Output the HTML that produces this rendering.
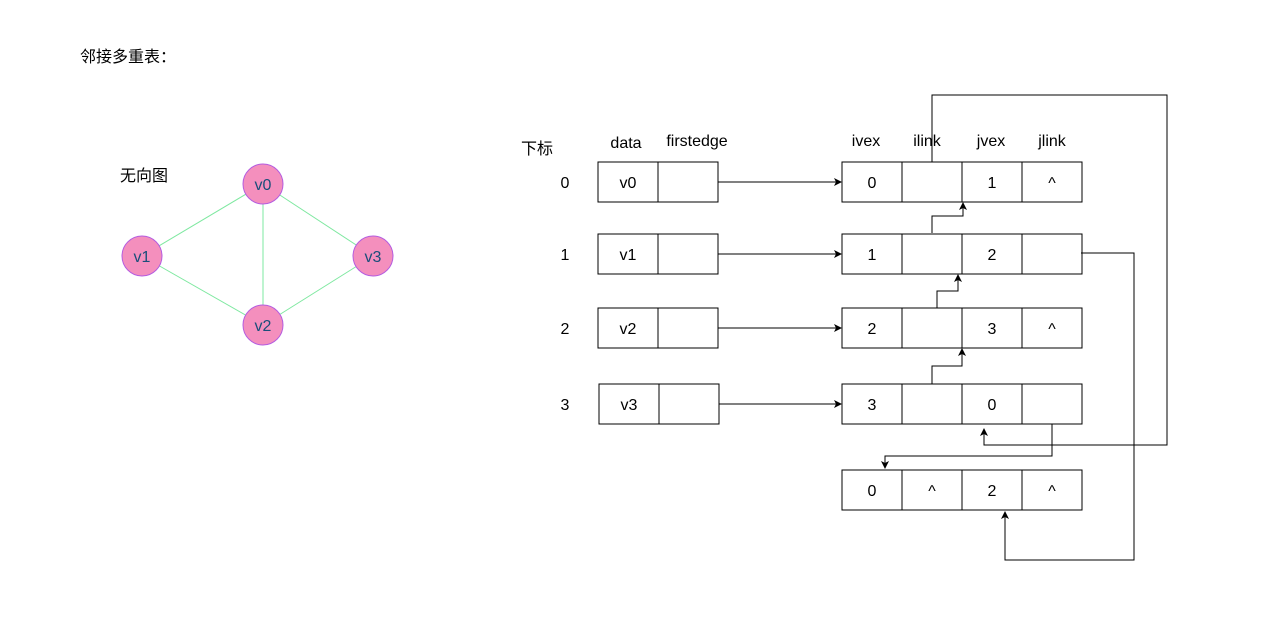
<!DOCTYPE html>
<html><head><meta charset="utf-8"><style>
body{margin:0;background:#fff}
svg{display:block;font-family:"Liberation Sans","Noto Sans CJK SC",sans-serif}
</style></head><body>
<svg width="1276" height="619" viewBox="0 0 1276 619" xmlns="http://www.w3.org/2000/svg">
<defs><marker id="ah" markerWidth="8" markerHeight="8" refX="7" refY="4" orient="auto" markerUnits="userSpaceOnUse"><path d="M0,0 L8,4 L0,8 L2,4 z" fill="#000"/></marker></defs>
<text x="80" y="62" font-size="16">邻接多重表：</text>
<text x="120" y="181" font-size="16">无向图</text>
<g stroke="#7ee8a0" stroke-width="1">
<line x1="263" y1="184" x2="142" y2="256"/><line x1="263" y1="184" x2="373" y2="256"/>
<line x1="263" y1="184" x2="263" y2="325"/><line x1="142" y1="256" x2="263" y2="325"/>
<line x1="373" y1="256" x2="263" y2="325"/></g>
<g fill="#f48fbd" stroke="#b45ce0" stroke-width="1" font-size="16">
<g><circle cx="263" cy="184" r="20"/><text x="263" y="190" text-anchor="middle" fill="#1a4e7a" stroke="none">v0</text></g>
<g><circle cx="142" cy="256" r="20"/><text x="142" y="262" text-anchor="middle" fill="#1a4e7a" stroke="none">v1</text></g>
<g><circle cx="263" cy="325" r="20"/><text x="263" y="331" text-anchor="middle" fill="#1a4e7a" stroke="none">v2</text></g>
<g><circle cx="373" cy="256" r="20"/><text x="373" y="262" text-anchor="middle" fill="#1a4e7a" stroke="none">v3</text></g>
</g>
<g font-size="16" text-anchor="middle">
<text x="537" y="154">下标</text><text x="626" y="148">data</text><text x="697" y="146">firstedge</text>
<text x="866" y="146">ivex</text><text x="927" y="146">ilink</text><text x="991" y="146">jvex</text><text x="1052" y="146">jlink</text>
</g>
<g id="tables" font-size="16" text-anchor="middle"></g>
<g fill="none" stroke="#000" stroke-width="1">
<polyline points="932,162 932,95 1167,95 1167,445 984,445 984,429" marker-end="url(#ah)"/>
<polyline points="932,233 932,216 963,216 963,203" marker-end="url(#ah)"/>
<polyline points="937,308 937,291 958,291 958,275" marker-end="url(#ah)"/>
<polyline points="932,384 932,366 962,366 962,349" marker-end="url(#ah)"/>
<polyline points="1052,424 1052,456 885,456 885,468" marker-end="url(#ah)"/>
<polyline points="1081,253 1134,253 1134,560 1005,560 1005,512" marker-end="url(#ah)"/>
</g>
</svg>
<script>
const vertexNames=["v0","v1","v2","v3"];
const edgeRows=[["0","","1","^"],["1","","2",""],["2","","3","^"],["3","","0",""],["0","^","2","^"]];
const rowY=[162,234,308,384,470];
const ns="http://www.w3.org/2000/svg",g=document.getElementById('tables');
function el(t,a,p){const e=document.createElementNS(ns,t);for(const k in a)e.setAttribute(k,a[k]);(p||g).appendChild(e);return e;}
function cell(x,y,w,txt,p){el('rect',{x:x,y:y,width:w,height:40,fill:'#fff',stroke:'#000'},p);const t=el('text',{x:x+w/2,y:y+26},p);t.textContent=txt;}
vertexNames.forEach((v,i)=>{const y=rowY[i],x=i==3?599:598;
const grp=el('g',{});


const idx=el('text',{x:565,y:y+26},grp);idx.textContent=String(i);
cell(x,y,60,v,grp);cell(x+60,y,60,'',grp);
const a=el('line',{x1:x+120,y1:y+20,x2:841,y2:y+20,stroke:'#000','marker-end':'url(#ah)'},grp);});
edgeRows.forEach((r,i)=>{const y=rowY[i];
const grp=el('g',{});


r.forEach((c,j)=>cell(842+j*60,y,60,c,grp));});
</script>
</body></html>
